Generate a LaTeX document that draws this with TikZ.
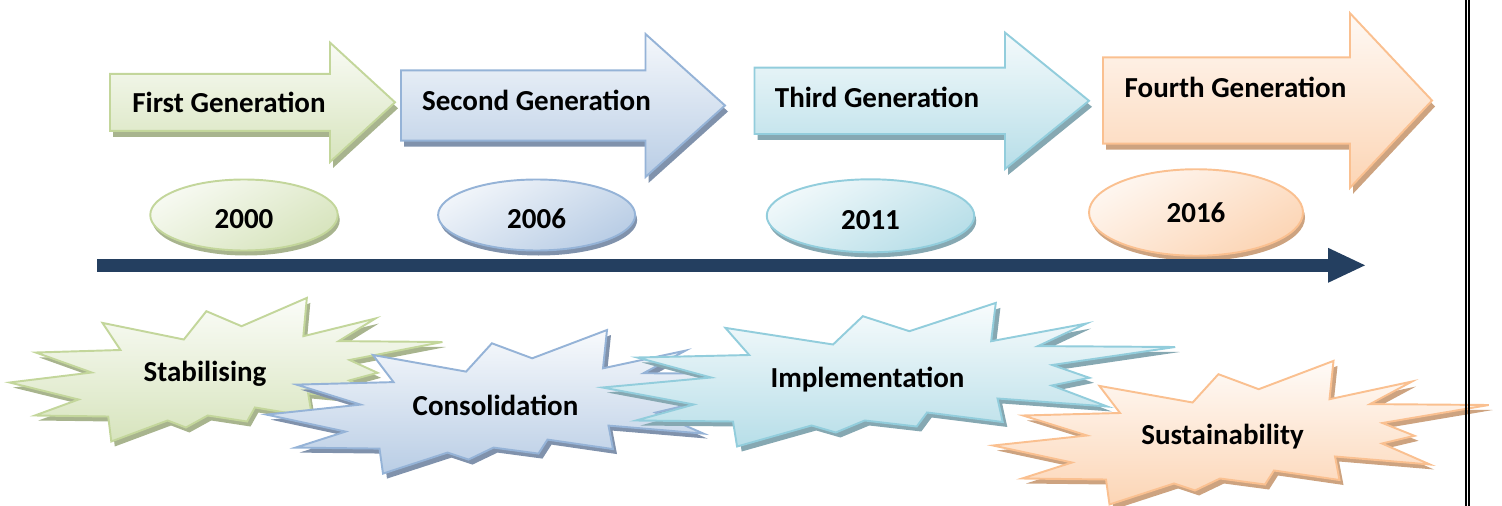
\documentclass[tikz,border=0pt]{standalone}
\usepackage{fontspec}
\setmainfont{Carlito}
\usetikzlibrary{shapes.geometric,shadows,arrows.meta}

\definecolor{grline}{RGB}{195,214,155}
\definecolor{grfill}{RGB}{215,228,189}
\definecolor{grshadow}{RGB}{168,180,142}
\definecolor{blline}{RGB}{149,179,215}
\definecolor{blfill}{RGB}{185,205,229}
\definecolor{blshadow}{RGB}{128,146,172}
\definecolor{aqline}{RGB}{146,205,220}
\definecolor{aqfill}{RGB}{183,222,232}
\definecolor{aqshadow}{RGB}{134,168,178}
\definecolor{orline}{RGB}{250,192,144}
\definecolor{orfill}{RGB}{252,213,181}
\definecolor{orshadow}{RGB}{205,163,128}
\definecolor{navy}{RGB}{36,63,96}

\newcommand{\burstpath}{(-122.6,-47.6) -- (-29.4,-31) -- (-3.6,-59.3) -- (36.7,-44.3) -- (111.5,-72.6) -- (107.5,-34.3) -- (190,-52) -- (148,-29.4) -- (266.8,-28.5) -- (160.4,-10.5) -- (192.5,2.3) -- (160,10) -- (208,31) -- (113,23) -- (117.5,46.5) -- (52,37) -- (43,51) -- (-2,45) -- (-27,57) -- (-48,50) -- (-112.5,71) -- (-116,46) -- (-200,45) -- (-150,29) -- (-229,12) -- (-135,2) -- (-199,-18) -- (-102,-20.5) -- cycle}

\newcommand{\genarrow}[7]{%
  \path[fill=#1shadow, shift={(3,6)}] (#2,#5-#6) -- (#3,#5-#6) -- (#3,#5-#7) -- (#4,#5) -- (#3,#5+#7) -- (#3,#5+#6) -- (#2,#5+#6) -- cycle;
  \path[draw=#1line, line width=1.1pt, top color=#1fill!15, bottom color=#1fill] (#2,#5-#6) -- (#3,#5-#6) -- (#3,#5-#7) -- (#4,#5) -- (#3,#5+#7) -- (#3,#5+#6) -- (#2,#5+#6) -- cycle;}

\newcommand{\burst}[4]{%
  \begin{scope}[shift={(#2,#3)}, xscale=#4]
  \path[fill=#1shadow, shift={(4,5)}] \burstpath;
  \path[draw=#1line, line width=1.1pt, top color=#1fill!10, bottom color=#1fill] \burstpath;
  \end{scope}}

\tikzset{
  gentext/.style={font=\bfseries\fontsize{16.5}{19}\selectfont, text depth=0pt, inner sep=0pt},
  yearoval/.style={ellipse, draw=#1line, line width=1.1pt, top color=#1fill!20, bottom color=#1fill, shading angle=30,
    drop shadow={shadow xshift=0.4mm, shadow yshift=-1mm, fill=#1shadow, opacity=1},
    font=\bfseries\fontsize{16.5}{19}\selectfont, inner sep=0pt}
}

\begin{document}
\begin{tikzpicture}[x=0.2mm, y=-0.2mm]
\useasboundingbox (0,0) rectangle (1502,506);

\genarrow{gr}{110}{330}{395}{102.3}{28.5}{59.7}
\genarrow{bl}{401}{645.5}{725}{105.5}{35.2}{71.5}
\genarrow{aq}{754.5}{1005}{1089}{100.8}{33.2}{68.2}
\genarrow{or}{1103}{1350}{1432}{100.5}{43.2}{87.3}

\node[gentext] (gen1) at (229,102.5) {First Generation};
\node[gentext] (gen2) at (536.5,100) {Second Generation};
\node[gentext] (gen3) at (877,97) {Third Generation};
\node[gentext] (gen4) at (1235.5,87) {Fourth Generation};

\node[yearoval=gr, minimum width=37.5mm, minimum height=14.2mm, text height=5.6mm] (y2000) at (244,215) {2000};
\node[yearoval=bl, minimum width=39.4mm, minimum height=14.2mm, text height=5.6mm] (y2006) at (536.6,215) {2006};
\node[yearoval=aq, minimum width=41.5mm, minimum height=14.6mm, text height=5.4mm] (y2011) at (870.5,215.8) {2011};
\node[yearoval=or, minimum width=42.8mm, minimum height=17.3mm] (y2016) at (1196,212.5) {2016};

\coordinate (tl-start) at (97,265.3);
\coordinate (tl-end) at (1365,265.3);
\path[draw=navy, line width=2.48mm, -{Triangle[length=7.4mm, width=7mm, line width=0pt]}] (tl-start) -- (tl-end);

\burst{gr}{209.5}{370.5}{0.873}
\node[gentext] (stab) at (205,371) {Stabilising};
\burst{bl}{495.5}{402.6}{1}
\node[gentext] (cons) at (495.5,405) {Consolidation};
\burst{aq}{867}{375.5}{1.155}
\node[gentext] (impl) at (867.5,377.3) {Implementation};
\burst{or}{1222}{433.5}{1}
\node[gentext] (sust) at (1222.5,434.5) {Sustainability};

\draw[line width=0.4mm] (1466,0) -- (1466,506);
\draw[line width=0.4mm] (1469,0) -- (1469,506);
\end{tikzpicture}
\end{document}
